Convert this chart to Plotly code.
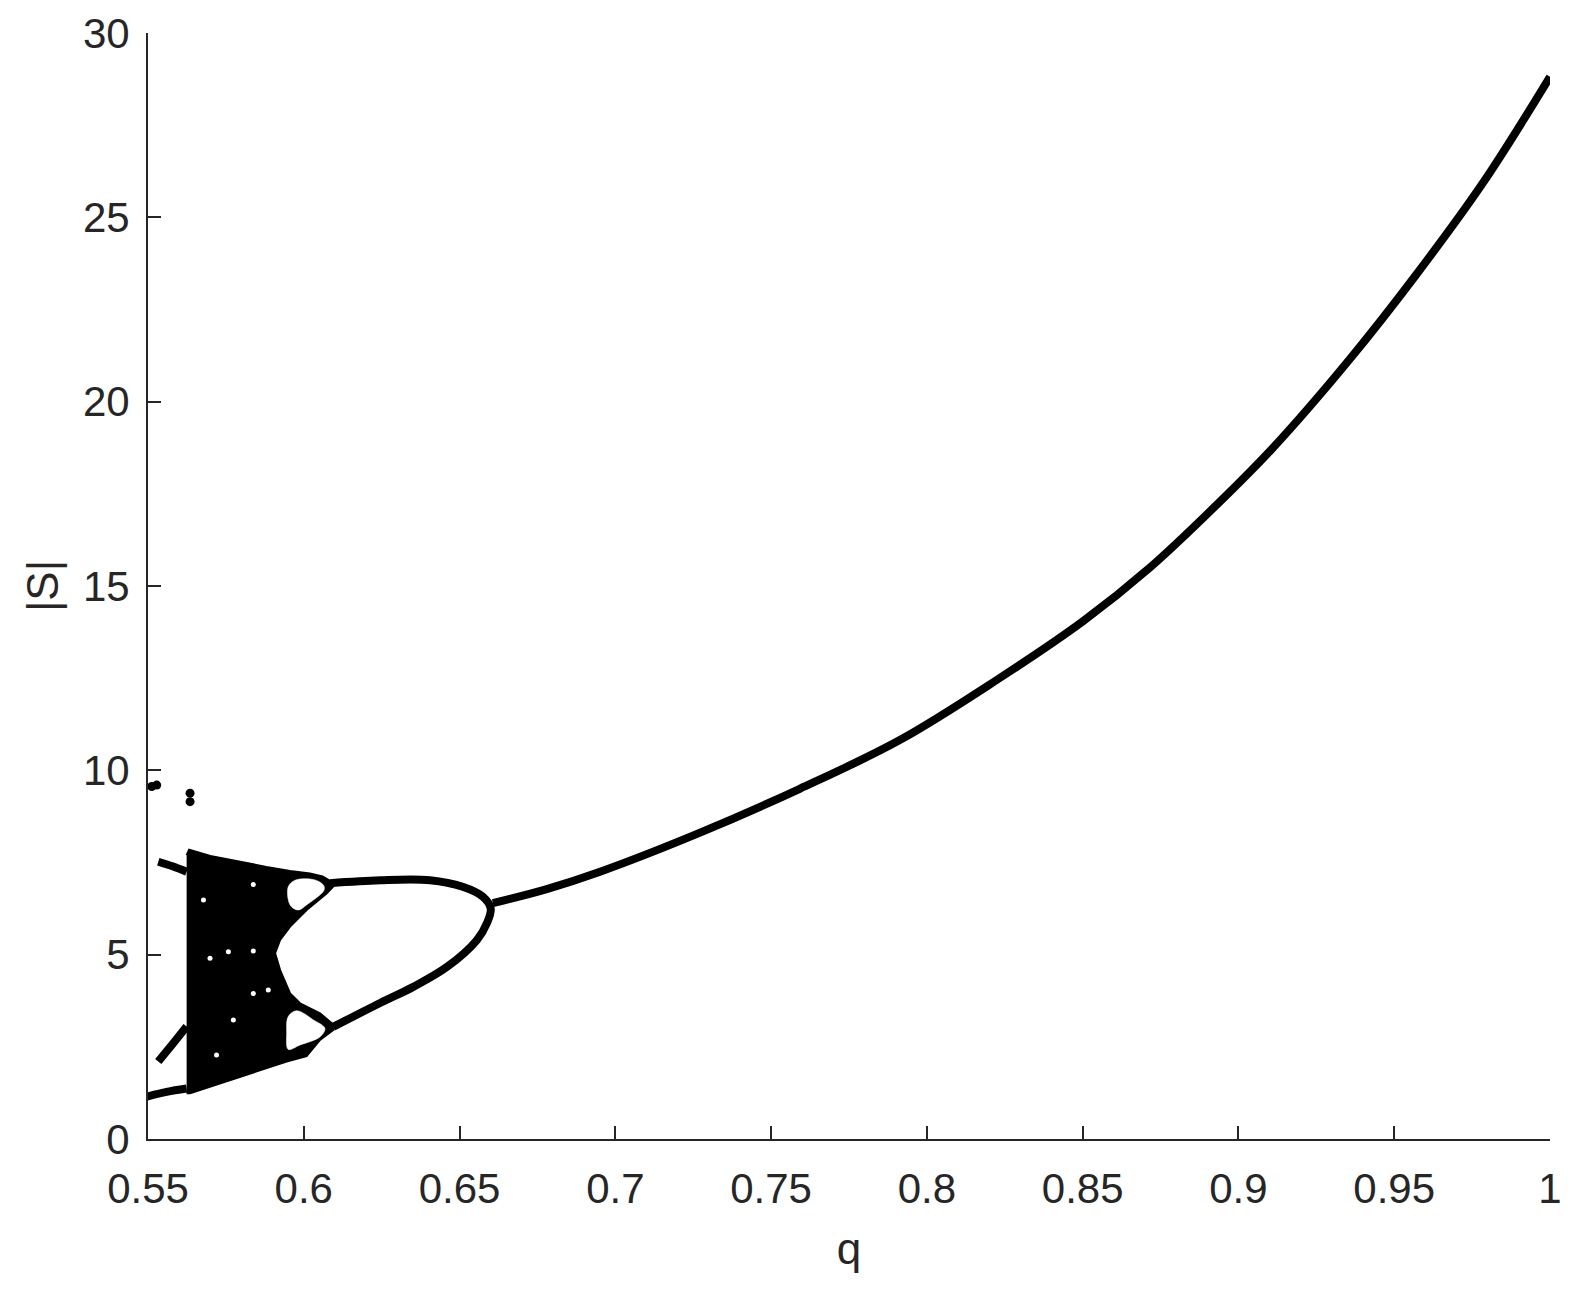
import plotly.graph_objects as go

# ---- data ----
# period-1 branch
q_p1 = [0.6607, 0.678, 0.6951, 0.7272, 0.7592, 0.7913, 0.8224, 0.8502,
        0.8716, 0.893, 0.9111, 0.9357, 0.9571, 0.9786, 1.0]
s_p1 = [6.40, 6.78, 7.25, 8.31, 9.50, 10.82, 12.45, 14.05,
        15.50, 17.20, 18.75, 21.15, 23.45, 25.95, 28.81]

# period-2 loop (upper branch left->right, then lower branch right->left)
q_p2 = [0.6084, 0.6245, 0.6405, 0.651, 0.6575, 0.6600, 0.6588, 0.6556, 0.646, 0.635, 0.6245, 0.6094]
s_p2 = [6.94, 7.02, 7.02, 6.84, 6.57, 6.25, 5.86, 5.40, 4.67, 4.12, 3.69, 3.04]

# chaotic band outline (outer edge of the black region)
q_band = [0.5624, 0.5632, 0.5700, 0.5795, 0.5880, 0.5956, 0.6020, 0.6060, 0.6085, 0.6095,
          0.6073, 0.6009, 0.5956, 0.5924, 0.5908, 0.5924, 0.5956, 0.5988, 0.6052,
          0.6090, 0.6095, 0.6052, 0.6009, 0.5945, 0.5795, 0.5635, 0.5624]
s_band = [7.70, 7.85, 7.68, 7.52, 7.38, 7.27, 7.20, 7.12, 7.00, 6.85,
          6.66, 6.21, 5.76, 5.40, 5.04, 4.58, 3.95, 3.68, 3.41,
          3.14, 2.96, 2.69, 2.25, 2.10, 1.69, 1.24, 1.24]

# white windows of the period-4 loops
q_hole_up = [0.5950, 0.5972, 0.6031, 0.6063, 0.6065, 0.6009, 0.5982, 0.5956]
s_hole_up = [6.84, 7.02, 7.04, 6.89, 6.75, 6.35, 6.21, 6.35]
q_hole_lo = [0.5950, 0.5977, 0.6031, 0.6068, 0.6052, 0.5988, 0.5950, 0.5945]
s_hole_lo = [3.32, 3.48, 3.23, 3.00, 2.77, 2.55, 2.43, 2.87]

# short branches left of the band
q_left_up = [0.5533, 0.5581, 0.5624]
s_left_up = [7.52, 7.39, 7.25]
q_left_mid = [0.5533, 0.5581, 0.5624]
s_left_mid = [2.10, 2.60, 3.05]
q_left_low = [0.5496, 0.5560, 0.5624]
s_left_low = [1.15, 1.28, 1.37]

# isolated points
q_dots = [0.5512, 0.5528, 0.5635, 0.5635]
s_dots = [9.56, 9.60, 9.38, 9.15]

# gaps inside the chaotic band
q_gaps = [0.5678, 0.5758, 0.5699, 0.5838, 0.5838, 0.5838, 0.5886, 0.5720, 0.5774]
s_gaps = [6.48, 5.08, 4.90, 3.95, 6.90, 5.10, 4.04, 2.28, 3.23]

x_ticks = [0.55, 0.6, 0.65, 0.7, 0.75, 0.8, 0.85, 0.9, 0.95, 1]
x_ticktext = ['0.55', '0.6', '0.65', '0.7', '0.75', '0.8', '0.85', '0.9', '0.95', '1']
y_ticks = [0, 5, 10, 15, 20, 25, 30]

ink = 'black'
axis_col = '#262626'
lw = 8

fig = go.Figure()

fig.add_trace(go.Scatter(x=q_band, y=s_band, mode='lines', fill='toself',
                         fillcolor=ink, line=dict(color=ink, width=2)))
for qh, sh in [(q_hole_up, s_hole_up), (q_hole_lo, s_hole_lo)]:
    fig.add_trace(go.Scatter(x=qh + qh[:1], y=sh + sh[:1], mode='lines', fill='toself',
                             fillcolor='white', line=dict(color='white', width=0.5, shape='spline')))
fig.add_trace(go.Scatter(x=q_gaps, y=s_gaps, mode='markers',
                         marker=dict(color='white', size=5)))

fig.add_trace(go.Scatter(x=q_p2, y=s_p2, mode='lines',
                         line=dict(color=ink, width=lw, shape='spline')))
fig.add_trace(go.Scatter(x=q_p1, y=s_p1, mode='lines',
                         line=dict(color=ink, width=lw, shape='spline', smoothing=1)))

for ql, sl in [(q_left_up, s_left_up), (q_left_mid, s_left_mid), (q_left_low, s_left_low)]:
    fig.add_trace(go.Scatter(x=ql, y=sl, mode='lines',
                             line=dict(color=ink, width=lw, shape='spline')))

fig.add_trace(go.Scatter(x=q_dots, y=s_dots, mode='markers',
                         marker=dict(color=ink, size=9)))

axis_common = dict(showline=True, linecolor=axis_col, linewidth=2, ticks='inside',
                   ticklen=13, tickwidth=2, tickcolor=axis_col, showgrid=False,
                   zeroline=False, mirror=False, automargin=False,
                   tickfont=dict(family='Liberation Sans', size=42, color=axis_col))

title_font = dict(family='Liberation Sans', size=44, color=axis_col)

# page body adds an 8px offset, so the figure is sized to sit inside the window
fig.update_layout(
    width=1561, height=1274,
    margin=dict(l=140, r=19, t=25, b=143),
    plot_bgcolor='white', paper_bgcolor='white',
    showlegend=False,
    xaxis=dict(range=[0.55, 1], tickvals=x_ticks, ticktext=x_ticktext,
               ticklabelstandoff=12,
               title=dict(text='q', standoff=22, font=title_font),
               **axis_common),
    yaxis=dict(range=[0, 30], tickvals=y_ticks, ticklabelstandoff=8,
               title=dict(text='|S|', standoff=10, font=title_font),
               **axis_common),
)

fig.write_html("out.html")
